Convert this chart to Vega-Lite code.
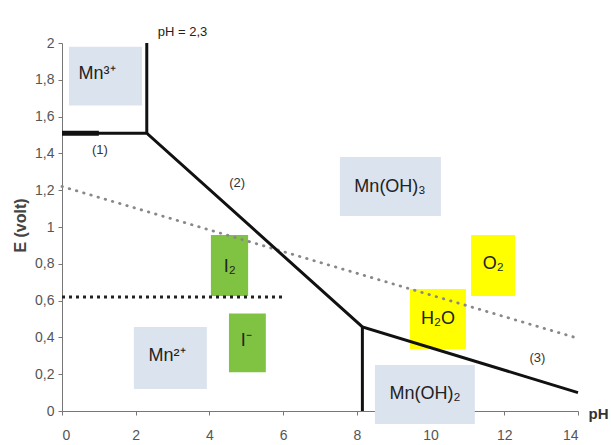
{
  "$schema": "https://vega.github.io/schema/vega-lite/v6.json",
  "width": 516,
  "height": 368,
  "autosize": {"type": "none"},
  "padding": {"left": 62, "top": 43, "right": 33, "bottom": 34},
  "background": "white",
  "config": {
    "locale": {"number": {"decimal": ",", "thousands": " ", "grouping": [3], "currency": ["", " €"]}},
    "view": {"stroke": null},
    "axis": {
      "domainColor": "#777",
      "tickColor": "#777",
      "labelColor": "#555",
      "labelFont": "Liberation Sans",
      "labelFontSize": 14,
      "labelOverlap": false,
      "grid": false,
      "titleFont": "Liberation Sans",
      "titleColor": "#444"
    }
  },
  "datasets": {
    "boxes": [
      {"name": "Mn3", "kind": "ion", "x": 0.19, "x2": 2.17, "y": 1.98, "y2": 1.66},
      {"name": "MnOH3", "kind": "ion", "x": 7.54, "x2": 10.28, "y": 1.38, "y2": 1.06},
      {"name": "Mn2", "kind": "ion", "x": 1.95, "x2": 3.93, "y": 0.457, "y2": 0.12},
      {"name": "MnOH2", "kind": "ion", "x": 8.49, "x2": 11.2, "y": 0.25, "y2": -0.07},
      {"name": "I2", "kind": "iode", "x": 4.04, "x2": 5.05, "y": 0.957, "y2": 0.625},
      {"name": "Im", "kind": "iode", "x": 4.53, "x2": 5.53, "y": 0.53, "y2": 0.21},
      {"name": "O2", "kind": "eau", "x": 11.1, "x2": 12.29, "y": 0.957, "y2": 0.625},
      {"name": "H2O", "kind": "eau", "x": 9.44, "x2": 10.96, "y": 0.663, "y2": 0.337}
    ],
    "boxlabels": [
      {"label": "Mn³⁺", "x": 0.95, "y": 1.83},
      {"label": "Mn(OH)₃", "x": 8.9, "y": 1.22},
      {"label": "Mn²⁺", "x": 2.85, "y": 0.3},
      {"label": "Mn(OH)₂", "x": 9.85, "y": 0.09},
      {"label": "I₂", "x": 4.55, "y": 0.78},
      {"label": "I⁻", "x": 5.0, "y": 0.38},
      {"label": "O₂", "x": 11.7, "y": 0.8},
      {"label": "H₂O", "x": 10.2, "y": 0.5}
    ],
    "lines": [
      {"seg": "A", "x": 0, "y": 1.51},
      {"seg": "A", "x": 2.3, "y": 1.51},
      {"seg": "A", "x": 8.15, "y": 0.457},
      {"seg": "A", "x": 14, "y": 0.1},
      {"seg": "B", "x": 2.3, "y": 1.51},
      {"seg": "B", "x": 2.3, "y": 2.0},
      {"seg": "C", "x": 8.15, "y": 0.457},
      {"seg": "C", "x": 8.15, "y": 0}
    ],
    "thick": [
      {"x": 0, "y": 1.51},
      {"x": 1, "y": 1.51}
    ],
    "water": [
      {"x": 0, "y": 1.22},
      {"x": 14, "y": 0.395}
    ],
    "iodine": [
      {"x": 0, "y": 0.62},
      {"x": 6.05, "y": 0.62}
    ],
    "notes": [
      {"label": "(1)", "x": 1.03, "y": 1.42},
      {"label": "(2)", "x": 4.75, "y": 1.24},
      {"label": "(3)", "x": 12.9, "y": 0.29}
    ],
    "phnote": [
      {"label": "pH = 2,3", "x": 2.6, "y": 2.06}
    ]
  },
  "encoding": {
    "x": {
      "field": "x", "type": "quantitative",
      "scale": {"domain": [0, 14], "nice": false, "zero": false},
      "axis": {
        "values": [0, 2, 4, 6, 8, 10, 12, 14],
        "labelOverlap": false,
        "tickSize": 4,
        "labelPadding": 13,
        "title": "pH",
        "titleFontSize": 15,
        "titleFontWeight": "bold",
        "titleAngle": 0,
        "titleX": 526,
        "titleY": 7,
        "titleAlign": "left",
        "titleBaseline": "alphabetic",
        "titleColor": "#333"
      }
    },
    "y": {
      "field": "y", "type": "quantitative",
      "scale": {"domain": [0, 2], "nice": false, "zero": false},
      "axis": {
        "values": [0, 0.2, 0.4, 0.6, 0.8, 1, 1.2, 1.4, 1.6, 1.8, 2],
        "format": "~g",
        "labelOverlap": false,
        "tickSize": 4,
        "labelPadding": 4,
        "title": "E (volt)",
        "titleFontSize": 16,
        "titleFontWeight": "bold",
        "titleX": -42,
        "titleY": 182,
        "titleBaseline": "middle"
      }
    }
  },
  "layer": [
    {
      "data": {"name": "boxes"},
      "mark": {"type": "rect"},
      "encoding": {
        "x2": {"field": "x2"},
        "y2": {"field": "y2"},
        "color": {
          "field": "kind", "type": "nominal",
          "scale": {"domain": ["ion", "iode", "eau"], "range": ["#dbe3ee", "#80c342", "#ffff00"]},
          "legend": null
        }
      }
    },
    {
      "data": {"name": "water"},
      "mark": {"type": "line", "color": "#888", "strokeWidth": 2.8, "strokeDash": [0.5, 7], "strokeCap": "round"},
      "encoding": {}
    },
    {
      "data": {"name": "iodine"},
      "mark": {"type": "line", "color": "#222", "strokeWidth": 3, "strokeDash": [3, 4]},
      "encoding": {}
    },
    {
      "data": {"name": "lines"},
      "mark": {"type": "line", "color": "#111", "strokeWidth": 3},
      "encoding": {
        "detail": {"field": "seg", "type": "nominal"}
      }
    },
    {
      "data": {"name": "thick"},
      "mark": {"type": "line", "color": "#111", "strokeWidth": 5},
      "encoding": {}
    },
    {
      "data": {"name": "boxlabels"},
      "mark": {"type": "text", "font": "Liberation Sans", "fontSize": 18, "color": "#222", "align": "center", "baseline": "middle"},
      "encoding": {
        "text": {"field": "label"}
      }
    },
    {
      "data": {"name": "notes"},
      "mark": {"type": "text", "font": "Liberation Sans", "fontSize": 13, "color": "#333", "align": "center", "baseline": "middle"},
      "encoding": {
        "text": {"field": "label"}
      }
    },
    {
      "data": {"name": "phnote"},
      "mark": {"type": "text", "font": "Liberation Sans", "fontSize": 13, "color": "#222", "align": "left", "baseline": "middle"},
      "encoding": {
        "text": {"field": "label"}
      }
    }
  ]
}
